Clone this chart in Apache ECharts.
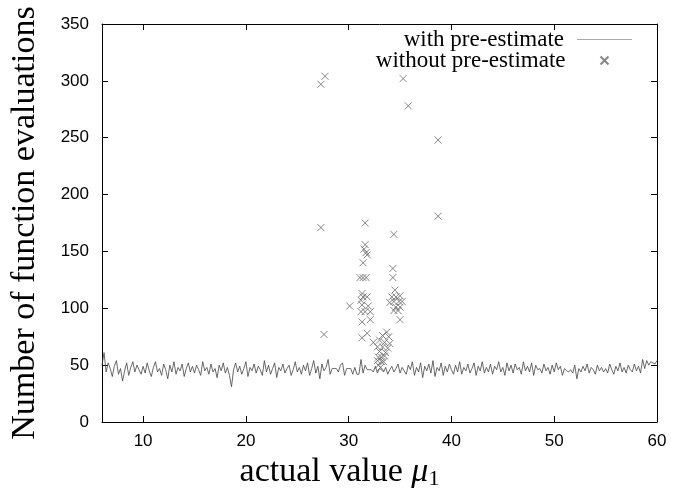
<!DOCTYPE html>
<html><head><meta charset="utf-8">
<script src="https://cdn.jsdelivr.net/npm/echarts@6/dist/echarts.min.js"></script>
<style>html,body{margin:0;padding:0;background:#fff}#c{width:677px;height:496px}</style>
</head><body><div id="c"></div><script>
// x grid of the "with pre-estimate" curve: starts at 6, step 0.2
const lineStartX = 6;
const lineStepX = 0.2;
const withPreEstimate = [
 50,61,44,52,47,40,49,54,42,47,36,45,52,41,48,53,44,50,46,42,
 49,43,52,45,40,48,53,44,47,41,51,46,38,50,44,53,42,48,45,51,
 40,47,52,44,49,43,50,46,41,53,45,48,42,51,44,47,39,50,45,52,
 43,48,41,31,46,52,44,49,42,47,53,40,48,45,51,43,49,46,41,54,
 44,50,42,47,52,39,48,45,51,43,47,50,41,46,53,44,48,42,50,45,
 52,41,47,54,43,49,38,51,45,48,55,42,47,47,47,44,50,52,41,47,
 47,47,42,48,42,42,55,43,50,46,46,46,44,49,43,47,46,44,48,42,
 46,49,44,47,51,43,48,45,42,50,46,53,41,48,44,52,39,49,45,51,
 43,54,40,48,45,52,41,49,44,51,46,42,50,44,53,42,48,45,51,43,
 47,52,41,49,45,53,43,48,44,51,42,49,46,53,44,48,41,52,45,50,
 43,51,46,48,42,53,45,49,44,52,41,50,46,47,43,51,45,48,42,50,
 44,52,46,49,41,47,45,44,46,43,50,38,47,44,49,45,51,43,48,46,
 42,50,45,48,44,47,43,51,46,42,49,45,52,44,48,43,50,46,44,51,
 45,49,43,55,47,54,50,53,52,51,54
];
const withoutPreEstimate = [
 [27.3,297],[27.7,304],[35.3,302],[35.8,278],[38.7,248],[38.7,181],[27.3,171],[27.6,77],
 [31.6,175],[31.6,156],[31.5,152],[31.7,149],[31.8,147],[31.4,140],[31.1,127],[31.4,127],[31.7,127],
 [31.3,113],[31.4,110],[31.8,110],[31.2,107],[30.1,102],[31.3,103],[31.9,102],[31.2,97],[31.6,97],
 [32.1,97],[31.3,88],[32.1,90],[31.3,74],[31.8,78],
 [34.4,165],[34.3,135],[34.3,127],[34.5,116],[34.2,110],[34.6,110],[35.0,111],[34.0,105],[34.4,106],
 [34.9,106],[35.2,106],[34.6,101],[35.0,101],[34.4,98],[34.8,98],[35.0,90],
 [33.7,79],[33.3,76],[33.9,75],[32.4,70],[33.0,72],[33.5,70],[34.0,69],[32.8,66],[33.3,66],[33.8,65],
 [33.0,62],[33.6,61],[32.9,57],[33.2,57],[32.8,54],[33.2,53],[32.9,50],[33.1,48],[33.5,58],[33.4,53]
];
const xTicks = [10,20,30,40,50,60];

const lineData = withPreEstimate.map((v,i)=>[+(lineStartX + i*lineStepX).toFixed(2), v]);
const sans = 'Liberation Sans';
const serif = 'Liberation Serif';
const chart = echarts.init(document.getElementById('c'), null, {renderer:'canvas'});
const tickStyle = {show:true, inside:true, length:6, lineStyle:{color:'#000', width:1}};
chart.setOption({
  animation:false,
  backgroundColor:'#fff',
  grid:{left:102, right:20, top:24, bottom:74, show:false},
  legend:[
    {data:[{name:'with pre-estimate', icon:'rect', itemStyle:{color:'#aaa', borderWidth:0}}],
     right:45, top:28, padding:0, orient:'vertical', align:'right',
     itemWidth:55, itemHeight:1,
     textStyle:{fontFamily:serif, fontSize:23, color:'#000', lineHeight:22, padding:[0,8,0,0]}},
    {data:['without pre-estimate'], right:66, top:49, padding:0, orient:'vertical', align:'right',
     itemWidth:8, itemHeight:8,
     textStyle:{fontFamily:serif, fontSize:23, color:'#000', lineHeight:22, padding:[0,30,0,0]}}
  ],
  xAxis:[
    {type:'value', min:6, max:60, position:'bottom',
     name:'actual value {it|μ}{sub|1}', nameLocation:'middle', nameGap:27,
     nameTextStyle:{fontFamily:serif, fontSize:34, color:'#000', verticalAlign:'top', padding:[0,80,0,0],
       rich:{it:{fontFamily:serif, fontStyle:'italic', fontSize:34, color:'#000'},
             sub:{fontFamily:serif, fontSize:22, color:'#000', padding:[14,0,0,0]}}},
     axisLine:{show:true, onZero:false, lineStyle:{color:'#000', width:1}},
     axisTick:Object.assign({customValues:xTicks}, tickStyle),
     axisLabel:{customValues:xTicks, fontFamily:sans, fontSize:17, color:'#000', margin:11},
     splitLine:{show:false}},
    {type:'value', min:6, max:60, position:'top',
     axisLine:{show:true, onZero:false, lineStyle:{color:'#000', width:1}},
     axisTick:Object.assign({customValues:xTicks}, tickStyle),
     axisLabel:{show:false}, splitLine:{show:false}}
  ],
  yAxis:[
    {type:'value', min:0, max:350, interval:50, position:'left',
     name:'Number of function evaluations', nameLocation:'middle', nameGap:60, nameRotate:90,
     nameTextStyle:{fontFamily:serif, fontSize:34, color:'#000'},
     axisLine:{show:true, onZero:false, lineStyle:{color:'#000', width:1}},
     axisTick:tickStyle,
     axisLabel:{fontFamily:sans, fontSize:17, color:'#000', margin:13},
     splitLine:{show:false}},
    {type:'value', min:0, max:350, interval:50, position:'right',
     axisLine:{show:true, onZero:false, lineStyle:{color:'#000', width:1}},
     axisTick:tickStyle, axisLabel:{show:false}, splitLine:{show:false}}
  ],
  series:[
    {name:'with pre-estimate', type:'line', xAxisIndex:0, yAxisIndex:0, data:lineData,
     symbol:'none', lineStyle:{color:'#444', width:0.8}, itemStyle:{color:'#aaa'}},
    {name:'without pre-estimate', type:'scatter', xAxisIndex:0, yAxisIndex:0, data:withoutPreEstimate,
     symbol:'path://M0,0L10,10M10,0L0,10', symbolSize:7,
     itemStyle:{color:'none', borderColor:'#666', borderWidth:1}}
  ]
});
</script></body></html>
